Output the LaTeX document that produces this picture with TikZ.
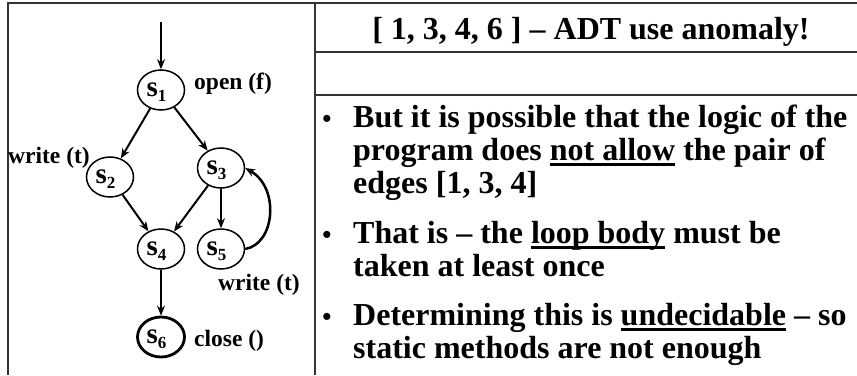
\documentclass[tikz,border=0pt]{standalone}
\usepackage{fontspec}
\setmainfont{Liberation Serif}
\usetikzlibrary{arrows.meta,shapes.geometric}
\newsavebox\ulbox
\newcommand\myul[1]{\sbox\ulbox{#1}\rlap{\rule[-6pt]{\wd\ulbox}{2.8pt}}\usebox\ulbox}
\newcommand\stn[1]{\hbox to 0pt{\hss s\smash{\raisebox{-5pt}{\fontsize{17}{17}\selectfont #1}}\hspace{9pt}\hss}}
\begin{document}
\begin{tikzpicture}[x=1pt,y=-1pt,
  frame/.style={line width=1.6pt, draw=black!80},
  st/.style={ellipse, draw, line width=1.5pt, minimum width=47pt, minimum height=40pt, inner sep=0pt, font=\fontsize{29}{29}\selectfont\bfseries},
  arr/.style={-{Stealth[length=10pt,width=8pt]}, line width=2pt},
  lab/.style={anchor=base west, inner sep=0pt, font=\fontsize{23.5}{23.5}\selectfont\bfseries},
  txt/.style={anchor=base west, inner sep=0pt, font=\fontsize{32}{32}\selectfont\bfseries},
  bul/.style={anchor=base, inner sep=0pt, font=\fontsize{26}{26}\selectfont\bfseries}]
\useasboundingbox (0,0) rectangle (857,375);
\fill[white] (0,0) rectangle (857,375);
% frames
\draw[frame] (8,375) -- (8,3) -- (857,3);
\draw[frame] (315,3) -- (315,375);
\draw[frame] (315,52) -- (857,52);
\draw[frame] (315,95) -- (857,95);
% graph
\coordinate (entry) at (161,22);
\node[st] (s1) at (161,90) {\stn{1}};
\node[st] (s2) at (110,177) {\stn{2}};
\node[st] (s3) at (221,168) {\stn{3}};
\node[st] (s4) at (161,249) {\stn{4}};
\node[st] (s5) at (221,249) {\stn{5}};
\node[st, line width=2.8pt] (s6) at (161,337) {\stn{6}};
\draw[arr] (entry) -- (s1);
\draw[arr] (s1) -- (s2);
\draw[arr] (s1) -- (s3);
\draw[arr] (s2) -- (s4);
\draw[arr] (s3) -- (s4);
\draw[arr] (s3) -- (s5);
\draw[arr] (s4) -- (s6);
\draw[arr, line width=2.5pt] (s5.east) .. controls (275,244) and (280,188) .. (s3.east);
\node[lab] (l1) at (194,89) {open (f)};
\node[lab] (l2) at (8,163) {write (t)};
\node[lab] (l3) at (218,290) {write (t)};
\node[lab] (l4) at (194,346) {close ()};
% right panel
\node[anchor=base, inner sep=0pt, font=\fontsize{32}{32}\selectfont\bfseries] (title) at (591,39) {[ 1, 3, 4, 6 ] – ADT use anomaly!};
\node[bul] (b1) at (327,127) {•};
\node[txt] (t1) at (353,127) {But it is possible that the logic of the};
\node[txt] (t2) at (353,160) {program does \myul{not allow} the pair of};
\node[txt] (t3) at (353,193) {edges [1, 3, 4]};
\node[bul] (b2) at (327,243) {•};
\node[txt] (t4) at (353,243) {That is – the \myul{loop body} must be};
\node[txt] (t5) at (353,276) {taken at least once};
\node[bul] (b3) at (327,325) {•};
\node[txt] (t6) at (353,325) {Determining this is \myul{undecidable} – so};
\node[txt] (t7) at (353,358) {static methods are not enough};
\end{tikzpicture}
\end{document}
